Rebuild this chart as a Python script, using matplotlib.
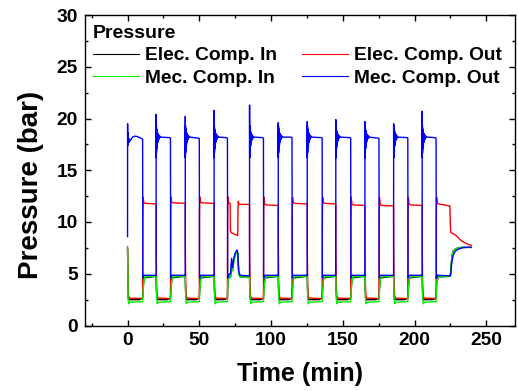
import matplotlib
matplotlib.use("Agg")
import matplotlib.pyplot as plt
from matplotlib.ticker import MultipleLocator
from matplotlib.lines import Line2D

plt.rcParams['font.family'] = ['Liberation Sans', 'DejaVu Sans']
plt.rcParams['font.weight'] = 'bold'

# compressor cycles: time (min) where the Mec. Out pressure goes high / drops again
cycle_start = [0.0, 19.9, 40.2, 60.3, 85.0, 105.0, 125.2, 145.1, 165.4, 185.4, 205.3]
cycle_end = [10.5, 29.9, 50.0, 69.6, 94.7, 114.6, 135.6, 155.5, 175.2, 195.3, 215.0]
blue_peak = [19.5, 20.4, 20.2, 20.8, 21.3, 19.6, 19.7, 19.9, 19.7, 19.5, 20.7]
blue_end = [18.0, 18.1, 18.05, 18.1, 18.1, 18.15, 18.1, 18.1, 18.05, 18.1, 18.1]
red_b_level = [11.75, 11.8, 11.8, None, 11.6, 11.75, 11.75, 11.6, 11.55, 11.6]

# ringing of Mec. Out after each start (minutes after start, bar)
ring_dt = [0.1, 0.2, 0.3, 0.42, 0.55, 0.7, 0.85, 1.0, 1.2, 1.4, 1.65, 1.9, 2.2, 2.6, 3.1]
ring_v = [16.2, 19.3, 16.7, 19.0, 17.1, 18.8, 17.4, 18.6, 17.7, 18.5, 17.9, 18.4, 18.05, 18.3, 18.2]

# first cycle of Mec. Out (no ringing, small hump)
first_t = [0.0, 0.03, 0.15, 0.3, 0.5, 0.8, 1.2, 2.0, 3.5, 5.0, 7.0, 9.0]
first_blue = [8.6, 19.5, 17.4, 18.6, 17.6, 18.1, 17.7, 17.9, 18.2, 18.3, 18.25, 18.1]

# odd stretch between 69.6 and 85 min
spec_t = [69.75, 70.0, 71.5, 71.8, 72.5, 73.2, 74.0, 75.0, 76.3, 76.8, 77.2, 77.5, 78.5, 84.8]
spec_blue = [4.7, 4.9, 5.0, 5.0, 6.5, 5.6, 6.5, 7.0, 7.3, 7.1, 6.0, 5.2, 4.85, 4.8]
spec_green = [3.5, 4.5, 4.7, 4.7, 6.0, 5.3, 6.2, 6.8, 7.1, 6.9, 5.8, 5.0, 4.7, 4.7]
spec_red_t = [69.75, 69.95, 70.3, 71.5, 71.7, 72.0, 74.0, 76.8, 77.0, 77.2, 77.6, 80.0, 84.8]
spec_red = [10.5, 12.4, 11.85, 11.8, 9.3, 9.0, 8.85, 8.7, 11.5, 12.0, 11.7, 11.7, 11.7]

# last stretch after 215 min
end_t = [215.15, 215.5, 216.5, 224.8, 225.2, 225.6, 226.2, 227.0, 228.0, 229.5, 231.0, 233.0, 236.0, 239.5]
end_blue = [4.6, 4.8, 4.85, 4.8, 4.9, 5.6, 6.3, 6.8, 7.1, 7.3, 7.4, 7.5, 7.55, 7.55]
end_green = [3.2, 4.2, 4.7, 4.75, 5.2, 6.0, 6.8, 7.2, 7.35, 7.45, 7.5, 7.55, 7.55, 7.55]
end_red_t = [215.15, 215.35, 216.0, 218.0, 221.0, 224.6, 224.9, 225.2, 227.0, 229.0, 231.0, 233.0, 235.0, 237.0, 239.5]
end_red = [10.5, 12.4, 11.8, 11.7, 11.65, 11.55, 10.0, 9.0, 8.85, 8.7, 8.4, 8.15, 8.0, 7.85, 7.75]

blue_low = 4.8
red_low = 2.6
green_low = 2.3
black_low = 2.5


def mec_out():
    t, v = [], []
    for k, (s, e) in enumerate(zip(cycle_start, cycle_end)):
        if k == 0:
            t += first_t
            v += first_blue
        else:
            t += [s, s + 0.03]
            v += [blue_low, blue_peak[k]]
            t += [s + d for d in ring_dt]
            v += ring_v
        t += [e - 0.5, e, e + 0.15, e + 1.0]
        v += [blue_end[k] + 0.05, blue_end[k], 4.6, 4.85]
        if k == 3:
            t += spec_t
            v += spec_blue
        elif k == 10:
            t += end_t
            v += end_blue
        else:
            t += [cycle_start[k + 1] - 0.3]
            v += [4.85]
    return t, v


def elec_out():
    t, v = [0.0], [7.6]
    for k, (s, e) in enumerate(zip(cycle_start, cycle_end)):
        if k > 0:
            t += [s, s + 0.05]
            v += [red_b_level[k - 1] if red_b_level[k - 1] else 11.7, 7.6]
        t += [s + 0.3, s + 0.7, s + 1.3, e]
        v += [4.2, 2.9, 2.65, red_low]
        if k == 3:
            t += spec_red_t
            v += spec_red
        elif k == 10:
            t += end_red_t
            v += end_red
        else:
            lvl = red_b_level[k]
            t += [e + 0.15, e + 0.35, e + 0.9, e + 2.0, cycle_start[k + 1] - 0.3]
            v += [10.5, 12.4, lvl + 0.1, lvl + 0.05, lvl]
    return t, v


def mec_in():
    t, v = [0.0, 0.3], [7.5, 4.5]
    for k, (s, e) in enumerate(zip(cycle_start, cycle_end)):
        if k > 0:
            t += [s, s + 0.1]
            v += [4.75, 4.0]
        t += [s + 0.4, s + 0.8, s + 1.5, e]
        v += [2.6, 2.1, 2.25, green_low]
        if k == 3:
            t += spec_t
            v += spec_green
        elif k == 10:
            t += end_t
            v += end_green
        else:
            t += [e + 0.3, e + 0.8, e + 1.4, cycle_start[k + 1] - 0.2]
            v += [3.2, 4.2, 4.7, 4.75]
    return t, v


def elec_in():
    t, v = [0.0, 0.3], [7.4, 4.4]
    for k, (s, e) in enumerate(zip(cycle_start, cycle_end)):
        if k > 0:
            t += [s, s + 0.2]
            v += [4.75, 3.5]
        t += [s + 0.6, e - 2.0, e]
        v += [black_low, black_low, 2.65]
        if k == 3:
            t += spec_t
            v += spec_green
        elif k == 10:
            t += end_t
            v += end_green
        else:
            t += [e + 0.3, e + 1.0, cycle_start[k + 1] - 0.2]
            v += [3.5, 4.6, 4.75]
    return t, v


fig = plt.figure(figsize=(5.18, 3.91), dpi=100)
ax = fig.add_axes([84.5 / 518, 1 - 325.5 / 391, (515 - 84.5) / 518, (325.5 - 15) / 391])

series = [
    ('Elec. Comp. In', elec_in, '#000000'),
    ('Elec. Comp. Out', elec_out, '#ff0000'),
    ('Mec. Comp. In', mec_in, '#00ee00'),
    ('Mec. Comp. Out', mec_out, '#0000ff'),
]
handles = {}
for name, fn, color in series:
    t, v = fn()
    ax.plot(t, v, color=color, lw=1.0)
    handles[name] = Line2D([], [], color=color, lw=0.8)

ax.set_xlim(-30, 270)
ax.set_ylim(0, 30)
ax.xaxis.set_major_locator(MultipleLocator(50))
ax.xaxis.set_minor_locator(MultipleLocator(25))
ax.yaxis.set_major_locator(MultipleLocator(5))
ax.yaxis.set_minor_locator(MultipleLocator(2.5))
ax.tick_params(which='both', direction='in', top=True, right=True, width=1.0)
ax.tick_params(which='major', length=4, labelsize=13.8)
ax.tick_params(which='minor', length=2.2)
ax.tick_params(axis='x', pad=5)
ax.tick_params(axis='y', pad=5)
for sp in ax.spines.values():
    sp.set_linewidth(1.0)

ax.set_xlabel('Time (min)', fontsize=18, fontweight='bold', labelpad=9)
ax.set_ylabel('Pressure (bar)', fontsize=20, fontweight='bold')
ax.yaxis.set_label_coords(-0.094, 0.4525)

order = ['Elec. Comp. In', 'Mec. Comp. In', 'Elec. Comp. Out', 'Mec. Comp. Out']
leg = ax.legend([handles[n] for n in order], order, ncol=2, loc='upper left',
                bbox_to_anchor=(3 / 430.5, 1 - 4.5 / 310.5),
                title='Pressure', frameon=False, fontsize=13.8,
                title_fontproperties={'weight': 'bold', 'size': 14},
                handlelength=2.4, handletextpad=0.3, columnspacing=1.3,
                labelspacing=0.25, borderaxespad=0.2, borderpad=0.1)
leg._legend_box.align = 'left'

fig.savefig('out.png', dpi=100)
